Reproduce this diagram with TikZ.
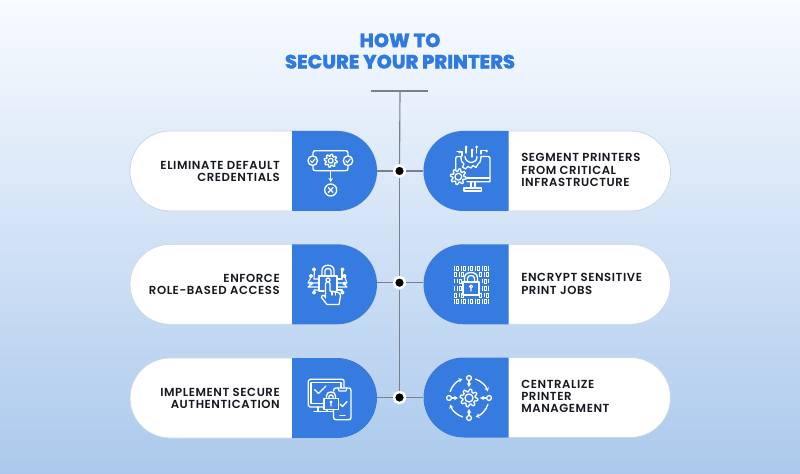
\documentclass[tikz,border=0pt]{standalone}
\usepackage{fontspec}
\setmainfont{Poppins}
\newfontfamily\titlefont[LetterSpace=0,FakeBold=0.8]{Poppins ExtraBold}
\newfontfamily\labelfont[LetterSpace=5]{Poppins SemiBold}
\usetikzlibrary{shapes.misc,arrows.meta}
\definecolor{brandblue}{HTML}{367CE0}
\definecolor{titleblue}{HTML}{2F7AE0}
\definecolor{inktext}{HTML}{15181E}
\definecolor{stem}{HTML}{78818A}
\definecolor{pillrim}{HTML}{CBD7E8}
\definecolor{bgtop}{HTML}{F8FBFF}
\definecolor{bgmid}{HTML}{DCE8F7}
\definecolor{bgbot}{HTML}{ABC9EC}
\tikzset{
  x=0.75pt,y=-0.75pt,
  pill/.style={rounded rectangle,fill=white,draw=pillrim,line width=0.6pt,minimum width=185.25pt,minimum height=60pt,inner sep=0pt},
  capL/.style={rounded rectangle,rounded rectangle left arc=none,fill=brandblue,minimum width=63.75pt,minimum height=60pt,inner sep=0pt},
  capR/.style={rounded rectangle,rounded rectangle right arc=none,fill=brandblue,minimum width=63.75pt,minimum height=60pt,inner sep=0pt},
  lblL/.style={anchor=east,align=right,font=\labelfont\fontsize{8.75}{8.9}\selectfont,text=inktext,inner sep=0pt},
  lblR/.style={anchor=west,align=left,font=\labelfont\fontsize{8.75}{9.2}\selectfont,text=inktext,inner sep=0pt},
  hub/.style={circle,fill=black,draw=white,line width=1.9pt,minimum size=8.4pt,inner sep=0pt},
  wire/.style={draw=stem,line width=0.85pt},
  ico/.style={draw=white,line width=1pt,line cap=round,line join=round},
  icofine/.style={draw=white,line width=0.8pt,line cap=round,line join=round},
  bit/.style={draw=white,line width=0.55pt},
  tip/.style={-{Stealth[length=3pt,width=3.4pt]}}
}
\newcommand{\cog}[6][ico]{% style, x, y, r, amp, teeth
  \draw[#1] plot[domain=0:360,samples=#6*8+1] ({#2+(#4+#5*max(min(2.4*sin(#6*\x),1),-1))*cos(\x)},{#3+(#4+#5*max(min(2.4*sin(#6*\x),1),-1))*sin(\x)}) -- cycle;}
\begin{document}
\begin{tikzpicture}
\shade[top color=bgtop,middle color=bgmid,bottom color=bgbot] (0,0) rectangle (800,474);
\useasboundingbox (0,0) rectangle (800,474);
% title
\node[font=\titlefont\fontsize{14.5}{16}\selectfont,text=titleblue,align=center,inner sep=0pt] (title) at (400,51) {HOW TO\\SECURE YOUR PRINTERS};
% stem
\coordinate (barL) at (371,91);
\coordinate (barR) at (428,91);
\coordinate (stemtop) at (400,91);
\node[hub] (h1) at (399.5,171) {};
\node[hub] (h2) at (399.5,282.7) {};
\node[hub] (h3) at (399.5,397.5) {};
% pills
\node[pill] (p1) at (253.5,171) {};
\node[pill] (p2) at (253.5,284.3) {};
\node[pill] (p3) at (253.5,398) {};
\node[pill] (q1) at (547,171) {};
\node[pill] (q2) at (547,284.3) {};
\node[pill] (q3) at (547,397.5) {};
\node[capL] (a1) at (334.5,171) {};
\node[capL] (a2) at (334.5,284.3) {};
\node[capL] (a3) at (334.5,398) {};
\node[capR] (b1) at (466,171) {};
\node[capR] (b2) at (466,284.3) {};
\node[capR] (b3) at (466,397.5) {};
\draw[wire] (barL) -- (barR);
\draw[wire] (stemtop) -- (h1);
\draw[wire] (h1) -- (h2);
\draw[wire] (h2) -- (h3);
\draw[wire] (h1 -| a1.east) -- (h1);
\draw[wire] (h2 -| a2.east) -- (h2);
\draw[wire] (h3 -| a3.east) -- (h3);
\draw[wire] (h1) -- (h1 -| b1.west);
\draw[wire] (h2) -- (h2 -| b2.west);
\draw[wire] (h3) -- (h3 -| b3.west);
% labels
\node[lblL] (t1) at (280,171.5) {ELIMINATE DEFAULT\\CREDENTIALS};
\node[lblL] (t2) at (280,284) {ENFORCE\\ROLE-BASED ACCESS};
\node[lblL] (t3) at (280,398) {IMPLEMENT SECURE\\AUTHENTICATION};
\node[lblR] (u1) at (521,170) {SEGMENT PRINTERS\\FROM CRITICAL\\INFRASTRUCTURE};
\node[lblR] (u2) at (521,284) {ENCRYPT SENSITIVE\\PRINT JOBS};
\node[lblR] (u3) at (521,396.5) {CENTRALIZE\\PRINTER\\MANAGEMENT};
% icon 1
\draw[ico] (313,156) -- (313,153) .. controls (313,151.5) and (314,150.7) .. (315.5,150.7) -- (345.5,150.7) .. controls (347,150.7) and (348,151.5) .. (348,153) -- (348,156);
\draw[ico] (313,165.5) -- (313,168.5) .. controls (313,170) and (314,170.7) .. (315.5,170.7) -- (345.5,170.7) .. controls (347,170.7) and (348,170) .. (348,168.5) -- (348,165.5);
\draw[ico] (312.7,160.7) circle[radius=4.8];
\draw[ico] (348,160.7) circle[radius=4.8];
\draw[icofine] (310.5,160.8) -- (312.2,162.6) -- (315,158.9);
\draw[icofine] (345.8,160.8) -- (347.5,162.6) -- (350.3,158.9);
\cog{330.7}{160.7}{5.6}{0.9}{8}
\draw[ico] (330.7,160.7) circle[radius=2.4];
\draw[ico,tip] (330.7,170.7) -- (330.7,182);
\draw[ico] (330.7,190) circle[radius=6];
\draw[ico] (328.4,187.7) -- (333,192.3) (333,187.7) -- (328.4,192.3);
% icon 2
\draw[ico] (455.7,170) -- (455.7,158.5) .. controls (455.7,157) and (456.5,156.5) .. (458,156.5) -- (461,156.5);
\draw[ico] (461,156.5) .. controls (461,161) and (462,163) .. (464,164) -- (462.5,167) -- (465.5,169) -- (468,166.5) -- (471,168) -- (473,165.5) -- (476,167.5) -- (478,164) .. controls (481,162) and (481,159) .. (481,156.5) -- (487.5,156.5) .. controls (489,156.5) and (490,157) .. (490,158.5) -- (490,181.7) -- (467,181.7);
\draw[ico] (465,156.5) .. controls (465,160) and (468,162.5) .. (472,162.5) .. controls (475,162.5) and (477,160) .. (477,156.5);
\draw[ico] (466.5,178) -- (490,178);
\draw[ico] (471,181.7) -- (471,188) (475,181.7) -- (475,188);
\draw[ico] (464,188) rectangle (481.5,191);
\cog{458.3}{176.7}{6.7}{1.2}{8}
\draw[ico] (458.3,176.7) circle[radius=3.4];
\draw[icofine] (462,156) -- (462,151.5) -- (457,151.5) (472,157) -- (472,150.5) (481,154) -- (481,150.5) -- (486,150.5) (466,153) -- (466,148) (476.5,153) -- (476.5,148);
\foreach \px/\py in {459.5/152,472/150,486.5/151,466/147,476.5/147}
  \fill[white] (\px,\py) circle[radius=1.5];
% icon 3
\draw[ico] (322,276) -- (322,270.5) .. controls (322,267) and (324.5,265.3) .. (328,265.3) .. controls (331.5,265.3) and (334,267) .. (334,270.5) -- (334,276);
\draw[ico] (325,276) -- (325,271) .. controls (325,269.5) and (326,268.5) .. (328,268.5) .. controls (330,268.5) and (331,269.5) .. (331,271) -- (331,276);
\draw[ico] (324,291) -- (319,291) -- (319,276) -- (337,276) -- (337,291) -- (336,291);
\draw[ico] (328,280) circle[radius=2];
\draw[ico] (325.5,298) -- (325.5,284) .. controls (325.5,281) and (330,281) .. (330,284) -- (330,291) -- (338,292.5) .. controls (340,293) and (340.5,294) .. (340.5,296) -- (339,304.5) -- (327,304.5) -- (321.5,297.5) .. controls (320.5,295.5) and (323,294) .. (325.5,297);
\draw[icofine] (332,291.8) -- (332,295) (335.5,292.5) -- (335.5,295);
\foreach \ax/\ay/\bx/\by/\cx/\cy in {319/279/314/279/314.5/269.5, 319/283/308/283/311.5/276, 319/287/308/287/311.5/284, 319/290/314/290/314.5/292}{
  \draw[icofine] (\ax,\ay) -- (\bx,\by) -- (\cx,\cy);
}
\foreach \ax/\ay/\bx/\by/\cx/\cy in {337/279/342/279/342/269.5, 337/283/347/283/344.5/276, 337/287/347/287/344.5/284, 337/290/342/290/342/292}{
  \draw[icofine] (\ax,\ay) -- (\bx,\by) -- (\cx,\cy);
}
\foreach \px/\py in {314/269.5,311/276,311/283.5,314/292.5,342.5/269.5,344.5/276,344.5/283.5,342.5/292.5}
  \draw[icofine] (\px,\py) circle[radius=1.5];
% icon 4 binary grid
\newcommand{\bitI}[2]{\draw[bit] (#1,#2-2.2) -- (#1,#2+2.2);}
\newcommand{\bitO}[2]{\draw[bit] (#1-0.9,#2-2) rectangle (#1+0.9,#2+2);}
\foreach \yy in {268.5,301.5}{\foreach \xx/\k in {454/1,457/0,461/1,464/0,468/1,471/0,475/1,478/0,482/1,485/0,488.5/1}{
  \ifnum\k=1 \bitI{\xx}{\yy}\else \bitO{\xx}{\yy}\fi}}
\foreach \yy in {274.5,295}{\foreach \xx/\k in {455/0,459/1,462/0,480/0,484/1,487.5/0}{
  \ifnum\k=1 \bitI{\xx}{\yy}\else \bitO{\xx}{\yy}\fi}}
\foreach \yy in {281,288.5}{\foreach \xx/\k in {454/1,457/1,460.5/0,482/1,485/0,488.5/1}{
  \ifnum\k=1 \bitI{\xx}{\yy}\else \bitO{\xx}{\yy}\fi}}
\draw[ico] (464.5,282) -- (464.5,278) .. controls (464.5,274.5) and (467,272.5) .. (471,272.5) .. controls (475,272.5) and (477.5,274.5) .. (477.5,278) -- (477.5,282);
\draw[ico] (467.5,282) -- (467.5,278.5) .. controls (467.5,276.5) and (469,275.5) .. (471,275.5) .. controls (473,275.5) and (474.5,276.5) .. (474.5,278.5) -- (474.5,282);
\draw[ico] (463,282) rectangle (479,295);
\draw[icofine] (471,286.5) circle[radius=1.5] (471,288) -- (471,291);
% icon 5
\draw[ico] (324,407) -- (310,407) .. controls (309,407) and (308.3,406.3) .. (308.3,405.3) -- (308.3,381) .. controls (308.3,380) and (309,379.3) .. (310,379.3) -- (342,379.3) .. controls (343,379.3) and (344,380) .. (344,381) -- (344,388);
\draw[icofine] (311,382.5) -- (341,382.5) -- (341,388) (311,382.5) -- (311,403.5) -- (323,403.5);
\draw[ico] (318,407) -- (318,411) (327,409.5) -- (327,411);
\draw[ico] (314,411.5) -- (333,411.5);
\draw[ico] (314.5,389.5) -- (318.5,393.5) -- (326,386);
\draw[ico] (333.5,391) .. controls (333.5,389) and (334.5,388) .. (336,388) -- (349,388) .. controls (350.5,388) and (351,389) .. (351,391) -- (351,417) .. controls (351,419) and (350.5,419.7) .. (349,419.7) -- (336,419.7) .. controls (334.5,419.7) and (333.5,419) .. (333.5,417) -- (333.5,409.5);
\draw[icofine] (338,388) -- (339,391) -- (346,391) -- (347,388);
\draw[ico] (340,415.5) -- (345,415.5);
\draw[ico] (340,404) -- (342.5,406.5) -- (347,401.5);
\draw[ico] (326.5,398.5) -- (326.5,396) .. controls (326.5,393) and (328.5,392) .. (331,392) .. controls (333.5,392) and (335.5,393) .. (335.5,396) -- (335.5,398.5);
\draw[ico] (329,398.5) -- (329,396.5) .. controls (329,394.5) and (333,394.5) .. (333,396.5) -- (333,398.5);
\draw[ico] (324,398.5) rectangle (338.5,409.5);
\draw[icofine] (331,402) circle[radius=1] (331,403) -- (331,406);
% icon 6
\cog{469}{398}{7.6}{1.3}{8}
\draw[ico] (469,398) circle[radius=4];
\foreach \dx/\dy in {1/0,-1/0,0/1,0/-1}{
  \draw[ico,tip] (469+18*\dx,398+18*\dy) -- (469+11*\dx,398+11*\dy);
  \fill[brandblue] (469+20*\dx,398+20*\dy) circle[radius=2.4];
  \draw[ico] (469+20*\dx,398+20*\dy) circle[radius=2.4];
}
% arcs (angles run clockwise on screen because the y axis points down)
\draw[ico,tip] ([shift={(-161:20)}]469,398) arc[start angle=-161,end angle=-109,radius=20];
\draw[ico,tip] ([shift={(-71:20)}]469,398) arc[start angle=-71,end angle=-19,radius=20];
\draw[ico,tip] ([shift={(19:20)}]469,398) arc[start angle=19,end angle=71,radius=20];
\draw[ico,tip] ([shift={(109:20)}]469,398) arc[start angle=109,end angle=161,radius=20];
\end{tikzpicture}
\end{document}
